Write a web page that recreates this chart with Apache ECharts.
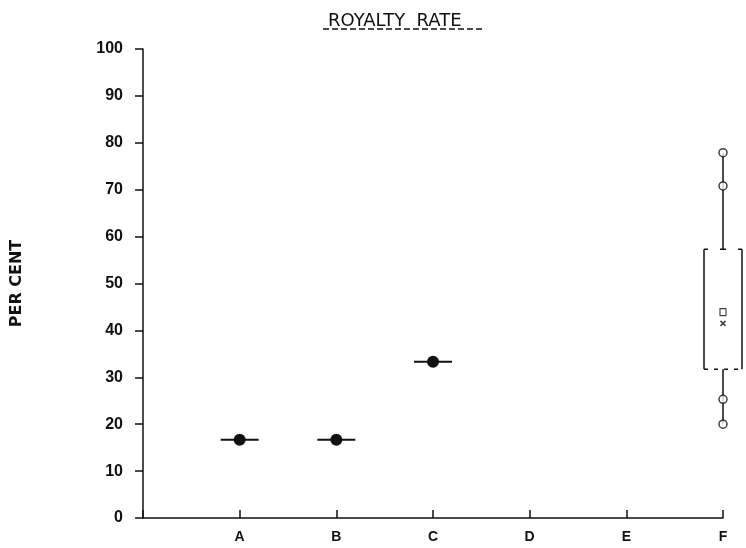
<!DOCTYPE html>
<html>
<head>
<meta charset="utf-8">
<script src="https://cdn.jsdelivr.net/npm/echarts@6/dist/echarts.min.js"></script>
<style>
  html, body { margin: 0; padding: 0; background: #fff; }
  #chart { width: 746px; height: 548px; }
</style>
</head>
<body>
<div id="chart"></div>
<script>
// categories sit at x = 1..6, x = 0 is the y axis
var categories = ['A', 'B', 'C', 'D', 'E', 'F'];
var yTicks = [0, 10, 20, 30, 40, 50, 60, 70, 80, 90, 100];

// single observations (A, B, C)
var singleCats = ['A', 'B', 'C'];
var singleVals = [16.7, 16.7, 33.3];

// box for F: low, q1, q3, high
var boxCat = 'F';
var boxVals = [20.0, 31.7, 57.3, 77.9];
// individual points drawn on F
var fPoints = [20.0, 25.3, 70.8, 77.9];
var fSquare = 43.9;
var fCross = 41.5;

function pos(c) { return categories.indexOf(c) + 1; }

var ink = '#111';
var chart = echarts.init(document.getElementById('chart'));

var option = {
    animation: false,
    title: {
        text: 'ROYALTY  RATE',
        left: 323,
        top: 7,
        textStyle: {
            fontFamily: 'DejaVu Sans',
            fontSize: 18,
            fontWeight: 'normal',
            color: ink
        }
    },
    graphic: [
        {
            type: 'line',
            shape: { x1: 323, y1: 29, x2: 483, y2: 29 },
            style: { stroke: ink, lineWidth: 1.5, lineDash: [6, 3] }
        }
    ],
    grid: { left: 143, right: 23, top: 49, bottom: 30 },
    xAxis: {
        type: 'value',
        min: 0,
        max: 6,
        interval: 1,
        splitLine: { show: false },
        axisLine: { lineStyle: { color: ink, width: 1.5 } },
        axisTick: { inside: true, length: 8, lineStyle: { color: ink, width: 1.5 } },
        axisLabel: {
            margin: 12,
            fontFamily: 'Liberation Sans',
            fontWeight: 'bold',
            fontSize: 14,
            color: ink,
            formatter: function(v) { return categories[v - 1] || ''; }
        }
    },
    yAxis: {
        type: 'value',
        min: yTicks[0],
        max: yTicks[yTicks.length - 1],
        interval: 10,
        name: 'PER CENT',
        nameLocation: 'middle',
        nameRotate: 90,
        nameGap: 118,
        nameTextStyle: {
            fontFamily: 'DejaVu Sans',
            fontWeight: 'bold',
            fontSize: 16,
            color: ink
        },
        splitLine: { show: false },
        axisLine: { show: true, lineStyle: { color: ink, width: 1.5 } },
        axisTick: { show: true, length: 8, lineStyle: { color: ink, width: 1.5 } },
        axisLabel: {
            margin: 20,
            fontFamily: 'Liberation Sans',
            fontWeight: 'bold',
            fontSize: 16,
            color: ink
        }
    },
    series: [
        {
            // dot with a short horizontal bar
            type: 'custom',
            data: singleCats.map(function(c, i) { return [pos(c), singleVals[i]]; }),
            renderItem: function(params, api) {
                var p = api.coord([api.value(0), api.value(1)]);
                return {
                    type: 'group',
                    children: [
                        {
                            type: 'line',
                            shape: { x1: p[0] - 19, y1: p[1], x2: p[0] + 19, y2: p[1] },
                            style: { stroke: ink, lineWidth: 2 }
                        },
                        {
                            type: 'circle',
                            shape: { cx: p[0], cy: p[1], r: 6 },
                            style: { fill: ink }
                        }
                    ]
                };
            }
        },
        {
            // box for F
            type: 'custom',
            data: [[pos(boxCat)].concat(boxVals)],
            renderItem: function(params, api) {
                var x = api.value(0);
                var lo = api.coord([x, api.value(1)]);
                var q1 = api.coord([x, api.value(2)]);
                var q3 = api.coord([x, api.value(3)]);
                var hi = api.coord([x, api.value(4)]);
                var cx = lo[0], w = 19;
                var st = { stroke: ink, lineWidth: 1.5 };
                return {
                    type: 'group',
                    children: [
                        { type: 'line', shape: { x1: cx - w, y1: q3[1], x2: cx - w, y2: q1[1] }, style: st },
                        { type: 'line', shape: { x1: cx + w, y1: q3[1], x2: cx + w, y2: q1[1] }, style: st },
                        { type: 'line', shape: { x1: cx - w, y1: q3[1], x2: cx - w + 4, y2: q3[1] }, style: st },
                        { type: 'line', shape: { x1: cx + w, y1: q3[1], x2: cx + w - 4, y2: q3[1] }, style: st },
                        { type: 'line', shape: { x1: cx - w, y1: q1[1], x2: cx + w, y2: q1[1] },
                          style: { stroke: ink, lineWidth: 1.5, lineDash: [4, 6] } },
                        { type: 'line', shape: { x1: cx - 3, y1: q3[1], x2: cx + 3, y2: q3[1] }, style: st },
                        { type: 'line', shape: { x1: cx, y1: q3[1], x2: cx, y2: hi[1] }, style: st },
                        { type: 'line', shape: { x1: cx, y1: q1[1], x2: cx, y2: lo[1] }, style: st }
                    ]
                };
            }
        },
        {
            type: 'scatter',
            data: fPoints.map(function(v) { return [pos(boxCat), v]; }),
            symbol: 'circle',
            symbolSize: 8,
            itemStyle: { color: '#fff', borderColor: ink, borderWidth: 1.5 },
            z: 5
        },
        {
            type: 'scatter',
            data: [[pos(boxCat), fSquare]],
            symbol: 'rect',
            symbolSize: [6, 7],
            itemStyle: { color: '#fff', borderColor: ink, borderWidth: 1.2 },
            z: 5
        },
        {
            type: 'scatter',
            data: [[pos(boxCat), fCross]],
            symbol: 'path://M0,0L10,10M10,0L0,10',
            symbolSize: 5,
            itemStyle: { color: 'none', borderColor: ink, borderWidth: 1.5 },
            z: 5
        }
    ]
};
chart.setOption(option);
</script>
</body>
</html>
